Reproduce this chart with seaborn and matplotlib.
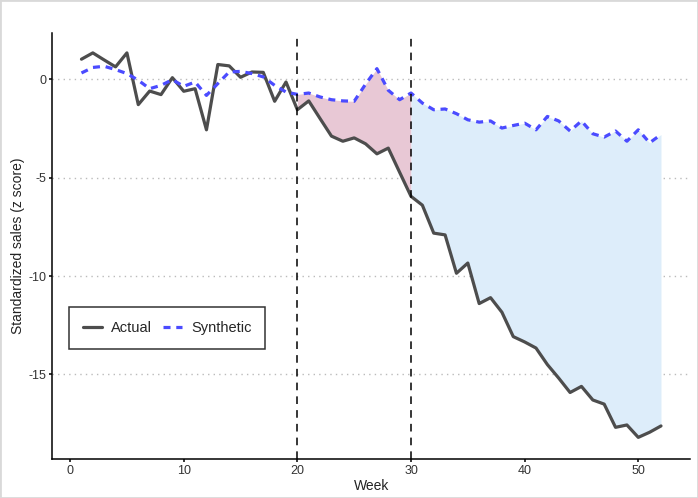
import numpy as np
import pandas as pd
import matplotlib
matplotlib.use("Agg")
import matplotlib.pyplot as plt
import seaborn as sns

# weekly standardized sales
weeks = list(range(1, 53))
actual = [1.02, 1.34, 0.98, 0.63, 1.34, -1.29, -0.60, -0.78, 0.08, -0.61,
          -0.48, -2.57, 0.75, 0.68, 0.10, 0.37, 0.35, -1.12, -0.14, -1.55,
          -1.10, -2.00, -2.89, -3.15, -2.98, -3.28, -3.79, -3.50, -4.73, -5.95,
          -6.40, -7.82, -7.91, -9.86, -9.34, -11.40, -11.10, -11.84, -13.08, -13.35,
          -13.66, -14.50, -15.19, -15.92, -15.61, -16.30, -16.51, -17.69, -17.57, -18.20,
          -17.94, -17.62]
synthetic = [0.32, 0.60, 0.66, 0.49, 0.29, -0.05, -0.48, -0.31, -0.02, -0.36,
             -0.14, -0.82, -0.22, 0.37, 0.40, 0.29, 0.12, -0.31, -0.65, -0.77,
             -0.70, -0.90, -1.04, -1.10, -1.12, -0.25, 0.54, -0.56, -1.04, -0.70,
             -1.21, -1.55, -1.51, -1.75, -2.06, -2.18, -2.12, -2.48, -2.35, -2.23,
             -2.57, -1.89, -2.12, -2.63, -2.12, -2.77, -2.94, -2.63, -3.15, -2.57,
             -3.23, -2.81]
treat_start = 20
treat_end = 30

df = pd.DataFrame({"Week": weeks, "Actual": actual, "Synthetic": synthetic})

sns.set_style("ticks")
plt.rcParams['font.family'] = ['Liberation Sans', 'DejaVu Sans']
plt.rcParams['axes.unicode_minus'] = False

fig = plt.figure(figsize=(6.98, 4.98), dpi=100)
ax = fig.add_axes([0.0752, 0.0783, 0.9133, 0.8554])

# shaded gaps
during = df[(df.Week >= treat_start) & (df.Week <= treat_end)]
after = df[df.Week >= treat_end]
ax.fill_between(during.Week, during.Actual, during.Synthetic, color="#E8C8D5", lw=0, zorder=1)
ax.fill_between(after.Week, after.Actual, after.Synthetic, color="#DDEDFA", lw=0, zorder=1)

sns.lineplot(data=df, x="Week", y="Actual", ax=ax, color="#4D4D4D", lw=2.3,
             label="Actual", zorder=3)
sns.lineplot(data=df, x="Week", y="Synthetic", ax=ax, color="#4B4BFF", lw=2.3,
             label="Synthetic", zorder=3)
ax.lines[-1].set_dashes((2.2, 1.8))

for v in [treat_start, treat_end]:
    ax.axvline(v, color="black", lw=1.1, ls=(0, (5, 4)), zorder=4)

ax.set_xlim(-1.55, 54.55)
ax.set_ylim(-19.3, 2.35)
ax.set_xticks([0, 10, 20, 30, 40, 50])
ax.set_yticks([0, -5, -10, -15])
ax.yaxis.grid(True, color="#BBBBBB", ls=(0, (1, 3)), lw=1)
ax.set_axisbelow(True)
sns.despine(ax=ax)
for s in ["left", "bottom"]:
    ax.spines[s].set_color("black")
    ax.spines[s].set_linewidth(1.1)
ax.tick_params(axis="both", colors="black", labelcolor="#333333", labelsize=9,
               length=2.5, width=1.1, pad=2)
ax.tick_params(axis="x", pad=1.5)
ax.set_xlabel("Week", fontsize=10, color="#222222", labelpad=1.5)
ax.set_ylabel("Standardized sales (z score)", fontsize=10, color="#222222", labelpad=2)

leg = ax.legend(loc="lower left", bbox_to_anchor=(0.026, 0.258), ncol=2,
                frameon=True, fancybox=False, fontsize=10.5, handlelength=1.3,
                columnspacing=0.7, borderpad=0.95, handletextpad=0.65,
                borderaxespad=0)
leg.get_frame().set_edgecolor("black")
leg.get_frame().set_linewidth(1.1)

fig.patches.append(plt.Rectangle((0, 0), 1, 1, transform=fig.transFigure,
                                 fill=False, edgecolor="#D9D9D9", lw=2))

plt.savefig("out.png", dpi=100)
